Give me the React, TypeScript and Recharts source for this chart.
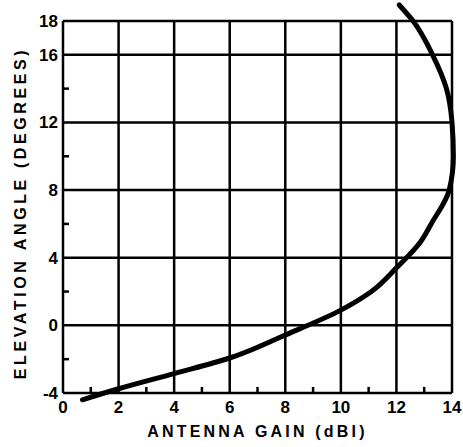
import { LineChart, Line, XAxis, YAxis, CartesianGrid, Label, ReferenceLine } from 'recharts';

// elevation angle (deg) and antenna gain (dBi), bottom to top
const elevation = [-4.4, -3.75, -2.85, -1.93, -0.57, 0.9, 2, 3.4, 4.9, 6, 8, 10, 12, 14, 16, 18, 18.95];
const gain = [0.7, 2, 4, 6, 8, 10, 11.1, 12, 12.85, 13.25, 13.9, 14.05, 14.0, 13.8, 13.3, 12.6, 12.1];

const gainTicks = [0, 2, 4, 6, 8, 10, 12, 14];
const gainMinorTicks = [1, 3, 5, 7, 9, 11, 13];
const elevTicks = [-4, 0, 4, 8, 12, 16, 18];
const elevMinorTicks = [-2, 2, 6, 10, 14];

const data = elevation.map((e, i) => ({ elev: e, gain: gain[i] }));
const allElevTicks = [...elevTicks, ...elevMinorTicks].sort((a, b) => a - b);

const font = 'Liberation Sans, Arial, sans-serif';
const Y_MARGIN = 5;
const MINOR = 6;
const MINOR_X_LEN = 0.36; // about 6px in elevation units

const textProps = { fill: '#000', fontSize: 17, fontWeight: 'bold', fontFamily: font };

// major ticks get a label, minor ticks a short mark pointing into the plot
const ElevTick = ({ x, y, payload }: any) =>
  elevTicks.includes(payload.value) ? (
    <text x={x} y={y} dy="0.355em" textAnchor="end" {...textProps}>
      {payload.value}
    </text>
  ) : (
    <line x1={x + Y_MARGIN} x2={x + Y_MARGIN + MINOR} y1={y} y2={y} stroke="#000" strokeWidth={2.5} />
  );

const YTitle = ({ viewBox }: any) => {
  const x = 20;
  const y = viewBox.y + viewBox.height / 2 + 6;
  return (
    <text
      x={x}
      y={y}
      transform={`rotate(-90 ${x} ${y})`}
      textAnchor="middle"
      dominantBaseline="central"
      fill="#000"
      fontSize={16}
      fontWeight="bold"
      fontFamily={font}
      letterSpacing={3.6}
    >
      ELEVATION ANGLE (DEGREES)
    </text>
  );
};

export default function App() {
  return (
    <div style={{ position: 'absolute', left: 0, top: 0, background: '#fff' }}>
      {/* the curve runs a little past the frame at both ends, so don't clip it */}
      <style>{`.recharts-line, .recharts-line * { clip-path: none !important; }`}</style>
      <LineChart
        width={463}
        height={447}
        data={data}
        layout="vertical"
        margin={{ top: 21, right: 11, bottom: 0, left: 0 }}
      >
        <CartesianGrid
          stroke="#000"
          strokeWidth={2.5}
          verticalValues={gainTicks}
          horizontalValues={elevTicks}
        />
        <XAxis
          type="number"
          dataKey="gain"
          domain={[0, 14]}
          allowDataOverflow
          ticks={gainTicks}
          interval={0}
          height={54}
          axisLine={false}
          tickLine={false}
          tickSize={0}
          tickMargin={8}
          tick={textProps}
        >
          <Label
            value="ANTENNA GAIN (dBI)"
            position="insideBottom"
            offset={10}
            fill="#000"
            fontSize={16}
            fontWeight="bold"
            fontFamily={font}
            letterSpacing={3.2}
          />
        </XAxis>
        <YAxis
          type="number"
          dataKey="elev"
          reversed
          domain={[-4, 18]}
          allowDataOverflow
          ticks={allElevTicks}
          interval={0}
          width={63}
          axisLine={false}
          tickLine={false}
          tickSize={0}
          tickMargin={Y_MARGIN}
          tick={ElevTick}
        >
          <Label content={YTitle} />
        </YAxis>
        {gainMinorTicks.map((v) => (
          <ReferenceLine
            key={`minor-${v}`}
            segment={[
              { x: v, y: elevTicks[0] },
              { x: v, y: elevTicks[0] + MINOR_X_LEN },
            ]}
            stroke="#000"
            strokeWidth={2.5}
          />
        ))}
        <Line
          dataKey="gain"
          type="monotone"
          stroke="#000"
          strokeWidth={5}
          strokeLinecap="round"
          dot={false}
          activeDot={false}
          isAnimationActive={false}
        />
      </LineChart>
    </div>
  );
}
